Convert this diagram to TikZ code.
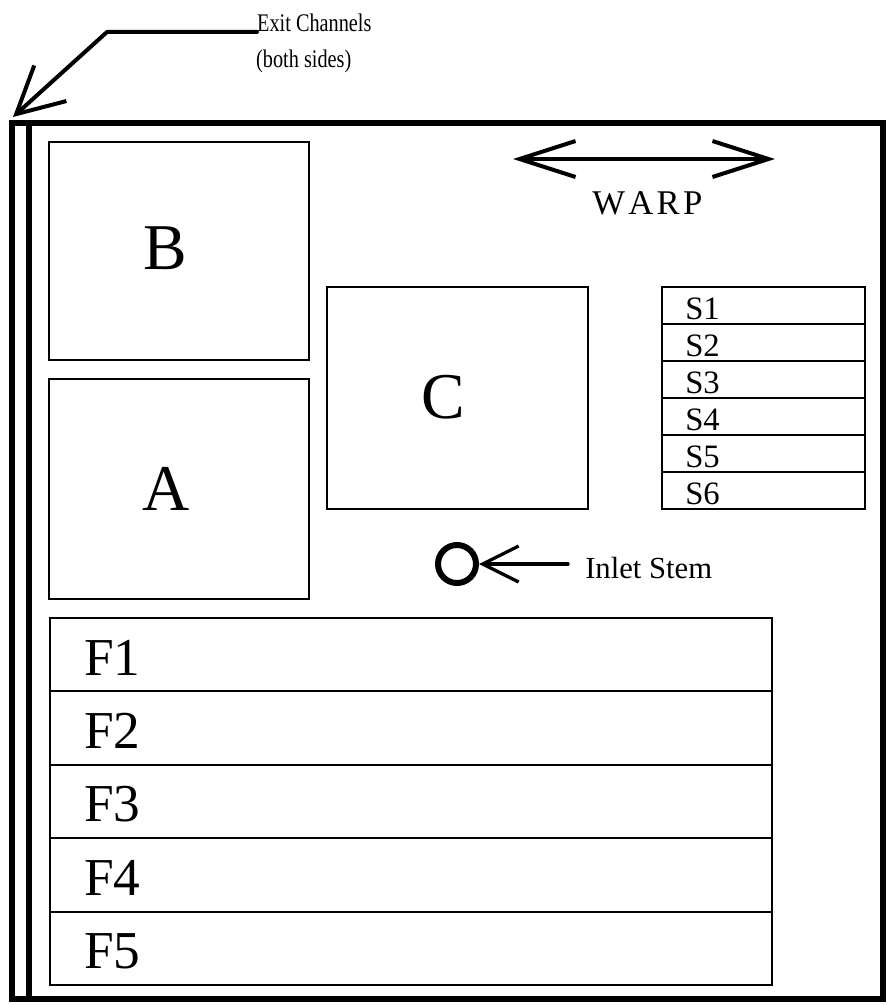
\documentclass[tikz,border=0pt]{standalone}
\usepackage{fontspec}
\setmainfont{Liberation Serif}
\usetikzlibrary{arrows.meta}
\tikzset{
  frameline/.style={line width=4.5pt},
  boxnode/.style={draw, line width=1.5pt, rectangle, inner sep=0pt, outer sep=0pt},
  bigletter/.style={anchor=base, inner sep=0pt, font=\fontsize{49}{50}\selectfont},
  slabel/.style={anchor=base west, inner sep=0pt, font=\fontsize{24.5}{26}\selectfont},
  flabel/.style={anchor=base west, inner sep=0pt, font=\fontsize{40}{42}\selectfont},
  exitlabel/.style={anchor=base west, inner sep=0pt, xscale=0.8, font=\fontsize{19}{20}\selectfont},
  barbline/.style={line width=3pt, line cap=round, line join=round},
}
\begin{document}
\begin{tikzpicture}[x=0.75pt,y=-0.75pt]
\useasboundingbox[fill=white] (0,0) rectangle (894,1005);
% outer frame with exit channel
\draw[frameline, line join=miter] (12,123) -- (883,123) -- (883,999) -- (12,999) -- cycle;
\draw[frameline] (29,123) -- (29,999);
% exit channels label and arrow
\node[exitlabel] (exit1) at (257,32) {Exit Channels};
\node[exitlabel] (exit2) at (256,68) {(both sides)};
\coordinate (bend) at (107,32);
\coordinate (tip) at (13,117);
\draw[barbline, -{Straight Barb[length=34.5pt, width=36pt]}] (exit1.base west) -- (bend) -- (tip);
% WARP
\coordinate (wl) at (513,159);
\coordinate (wr) at (775,159);
\draw[barbline, {Straight Barb[length=42pt, width=27pt]}-{Straight Barb[length=42pt, width=27pt]}] (wl) -- (wr);
\node[anchor=base west, inner sep=0pt, font=\fontsize{26}{28}\selectfont] (warp) at (592,215) {W\kern2.5pt A\kern2.5pt R\kern2.5pt P};
% boxes B, A, C
\node[boxnode, minimum width=195pt, minimum height=163.5pt] (B) at (179,251) {};
\node[bigletter] (Blab) at (165,270) {B};
\node[boxnode, minimum width=195pt, minimum height=165pt] (A) at (179,489) {};
\node[bigletter] (Alab) at (166,510) {A};
\node[boxnode, minimum width=195.75pt, minimum height=166.5pt] (C) at (457.5,398) {};
\node[bigletter] (Clab) at (443,418) {C};
% S boxes
\foreach \i/\yc/\yb in {1/305.5/319, 2/342.5/356, 3/379.5/393, 4/416.5/430, 5/453.5/467, 6/490.5/504}{
  \node[boxnode, minimum width=152.25pt, minimum height=27.75pt] (S\i) at (763.5,\yc) {};
  \node[slabel] (S\i lab) at (685,\yb) {S\i};
}
% Inlet stem
\node[circle, draw, line width=4.5pt, minimum size=28.5pt, inner sep=0pt] (stem) at (457,564) {};
\node[anchor=base west, inner sep=0pt, font=\fontsize{23}{24}\selectfont] (inlet) at (585,578) {Inlet Stem};
\coordinate (ia) at (568,564);
\draw[line width=2.5pt, line cap=round, -{Straight Barb[length=27pt, width=27pt]}] (ia) -- (stem.east);
% F boxes
\foreach \i/\yc/\yb in {1/654.7/675, 2/728.1/748, 3/801.5/821, 4/874.9/895, 5/948.3/968}{
  \node[boxnode, minimum width=541.5pt, minimum height=55.05pt] (F\i) at (411,\yc) {};
  \node[flabel] (F\i lab) at (84,\yb) {F\i};
}
\end{tikzpicture}
\end{document}
